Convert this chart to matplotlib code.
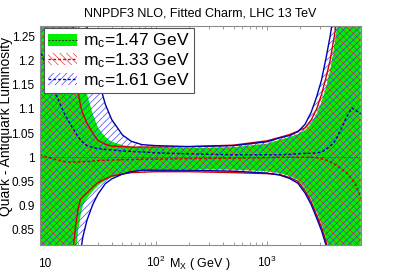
import numpy as np
import matplotlib
matplotlib.use("Agg")
import matplotlib.pyplot as plt
from matplotlib.patches import Patch
from matplotlib.lines import Line2D
from matplotlib.legend_handler import HandlerTuple
from matplotlib.ticker import FixedLocator, FixedFormatter, LogLocator, NullFormatter

plt.rcParams['font.family'] = ['Liberation Sans', 'DejaVu Sans']
plt.rcParams['mathtext.fontset'] = 'custom'
plt.rcParams['mathtext.rm'] = 'Liberation Sans'
plt.rcParams['mathtext.it'] = 'Liberation Sans:italic'
plt.rcParams['mathtext.default'] = 'regular'
plt.rcParams['hatch.linewidth'] = 0.45

# ---------------- data ----------------
mass = [9, 12, 15, 17, 18, 19, 20, 21, 22, 24, 27, 30, 35, 40, 50, 60, 75, 100, 200, 500,
        1000, 1300, 1600, 1900, 2200, 2500, 2800, 3100, 3400, 3700, 4000, 4300, 4700,
        5200, 5800, 6400, 7000]

# m_c = 1.47 GeV (reference)
g_cen = [1.0] * len(mass)
g_hi = [1.9, 1.7, 1.5, 1.40, 1.35, 1.30, 1.25, 1.20, 1.17, 1.13, 1.09, 1.062, 1.042, 1.032,
        1.025, 1.022, 1.020, 1.019, 1.019, 1.021, 1.028, 1.036, 1.042, 1.048, 1.056, 1.07,
        1.09, 1.115, 1.145, 1.18, 1.225, 1.275, 1.34, 1.43, 1.55, 1.7, 1.85]
g_lo = [0.3, 0.4, 0.55, 0.68, 0.74, 0.80, 0.85, 0.88, 0.90, 0.915, 0.930, 0.941, 0.952, 0.958,
        0.965, 0.969, 0.972, 0.974, 0.975, 0.974, 0.971, 0.967, 0.961, 0.953, 0.935, 0.913,
        0.886, 0.861, 0.833, 0.80, 0.76, 0.72, 0.66, 0.58, 0.48, 0.38, 0.28]

# m_c = 1.33 GeV
r_cen = [1.005, 0.996, 0.991, 0.990, 0.990, 0.990, 0.990, 0.990, 0.991, 0.991, 0.992, 0.993,
         0.994, 0.994, 0.995, 0.995, 0.996, 0.996, 0.997, 0.998, 0.999, 1.0, 1.0, 1.0, 1.0,
         1.0, 0.999, 0.997, 0.994, 0.991, 0.987, 0.982, 0.975, 0.968, 0.955, 0.94, 0.915]
r_hi = [2.0, 1.8, 1.55, 1.36, 1.272, 1.19, 1.135, 1.105, 1.09, 1.07, 1.05, 1.035, 1.027, 1.023,
        1.022, 1.021, 1.021, 1.021, 1.022, 1.025, 1.034, 1.041, 1.047, 1.054, 1.061, 1.077,
        1.10, 1.13, 1.165, 1.20, 1.245, 1.29, 1.35, 1.45, 1.6, 1.75, 1.9]
r_lo = [0.3, 0.45, 0.62, 0.75, 0.81, 0.86, 0.895, 0.913, 0.918, 0.926, 0.938, 0.947, 0.955,
        0.961, 0.965, 0.968, 0.969, 0.970, 0.970, 0.968, 0.966, 0.964, 0.958, 0.950, 0.931,
        0.908, 0.880, 0.855, 0.826, 0.79, 0.75, 0.71, 0.65, 0.57, 0.47, 0.37, 0.27]

# m_c = 1.61 GeV
b_cen = [1.225, 1.14, 1.09, 1.068, 1.058, 1.05, 1.042, 1.036, 1.031, 1.024, 1.02, 1.018, 1.016,
         1.015, 1.013, 1.012, 1.011, 1.009, 1.007, 1.005, 1.005, 1.005, 1.006, 1.007, 1.008,
         1.008, 1.009, 1.011, 1.016, 1.023, 1.03, 1.042, 1.06, 1.083, 1.102, 1.096, 1.09]
b_hi = [2.5, 2.2, 1.9, 1.7, 1.6, 1.52, 1.45, 1.38, 1.33, 1.27, 1.21, 1.165, 1.11, 1.078, 1.046,
        1.033, 1.026, 1.024, 1.022, 1.024, 1.032, 1.040, 1.045, 1.053, 1.068, 1.093, 1.125,
        1.16, 1.205, 1.25, 1.30, 1.36, 1.45, 1.55, 1.7, 1.85, 2.0]
b_lo = [0.2, 0.35, 0.5, 0.6, 0.65, 0.7, 0.75, 0.805, 0.835, 0.87, 0.902, 0.923, 0.945, 0.955,
        0.965, 0.970, 0.973, 0.973, 0.973, 0.971, 0.967, 0.963, 0.956, 0.946, 0.926, 0.902,
        0.874, 0.848, 0.818, 0.78, 0.74, 0.70, 0.64, 0.56, 0.46, 0.36, 0.26]

labels = ['m$_{c}$=1.47 GeV', 'm$_{c}$=1.33 GeV', 'm$_{c}$=1.61 GeV']
xticks = [10, 100, 1000]
xticklabels = ['10', '$10^{2}$', '$10^{3}$']
yticks = [0.85, 0.9, 0.95, 1.0, 1.05, 1.1, 1.15, 1.2, 1.25]
yticklabels = ['0.85', '0.9', '0.95', '1', '1.05', '1.1', '1.15', '1.2', '1.25']

# ---------------- style ----------------
green = '#00f000'
red_line = '#d00000'
blue_line = '#0000b0'
red_hatch = '#ff2020'
blue_hatch = '#3030ff'
hatch_r = '\\\\\\\\\\'
hatch_b = '/////'

fig = plt.figure(figsize=(4.01, 2.72), dpi=100)
ax = fig.add_axes([39.5 / 401, 27 / 272, 321.5 / 401, 219 / 272])
ax.set_xscale('log')

ax.fill_between(mass, g_lo, g_hi, facecolor=green, edgecolor='none', lw=0, zorder=1)
ax.fill_between(mass, r_lo, r_hi, facecolor='none', edgecolor=red_hatch, hatch=hatch_r, lw=0, zorder=2)
ax.fill_between(mass, b_lo, b_hi, facecolor='none', edgecolor=blue_hatch, hatch=hatch_b, lw=0, zorder=2)

ax.plot(mass, g_cen, color='#404040', lw=0.5, dashes=(2, 1.5), zorder=3)
for lo, hi, cen, c in [(r_lo, r_hi, r_cen, red_line), (b_lo, b_hi, b_cen, blue_line)]:
    ax.plot(mass, hi, color=c, lw=1.0, zorder=4)
    ax.plot(mass, lo, color=c, lw=1.0, zorder=4)
    ax.plot(mass, cen, color=c, lw=1.0, dashes=(2, 1.5), zorder=4)

ax.set_xlim(8.95, 7030)
ax.set_ylim(0.818, 1.272)

ax.xaxis.set_major_locator(FixedLocator(xticks))
ax.xaxis.set_major_formatter(FixedFormatter(xticklabels))
ax.xaxis.set_minor_locator(LogLocator(base=10, subs=np.arange(2, 10)))
ax.xaxis.set_minor_formatter(NullFormatter())
ax.yaxis.set_major_locator(FixedLocator(yticks))
ax.yaxis.set_major_formatter(FixedFormatter(yticklabels))

spine_c = '#8a8a8a'
for s in ax.spines.values():
    s.set_color(spine_c)
    s.set_linewidth(0.8)
    s.set_zorder(6)
ax.tick_params(which='both', direction='in', top=True, right=True, color=spine_c,
               labelsize=8.5, width=0.6)
ax.tick_params(which='major', length=3)
ax.tick_params(which='minor', length=2)
ax.tick_params(axis='x', pad=16)
for lbl in ax.get_xticklabels():
    lbl.set_verticalalignment('baseline')

ax.set_title('NNPDF3 NLO, Fitted Charm, LHC 13 TeV', fontsize=9, pad=6.5)
ax.set_ylabel('Quark - Antiquark Luminosity', fontsize=10)
ax.yaxis.set_label_coords(-0.081, 0.54)
ax.set_xlabel('M$_{X}$ ( GeV )', fontsize=9)
ax.xaxis.set_label_coords(0.5, -0.05)

h_g = (Patch(facecolor=green, edgecolor='none'), Line2D([], [], color='#303030', lw=0.7, dashes=(2, 1.5)))
h_r = (Patch(facecolor='white', edgecolor=red_hatch, hatch=hatch_r, lw=0),
       Line2D([], [], color=red_line, lw=1.0, dashes=(2, 1.5)))
h_b = (Patch(facecolor='white', edgecolor=blue_hatch, hatch=hatch_b, lw=0),
       Line2D([], [], color=blue_line, lw=1.0, dashes=(2, 1.5)))
leg = ax.legend([h_g, h_r, h_b], labels, handler_map={tuple: HandlerTuple(ndivide=1)},
                loc='upper left', bbox_to_anchor=(0.014, 0.991), borderaxespad=0,
                fontsize=12.5, fancybox=False, framealpha=1, edgecolor='#555555',
                handlelength=1.7, handleheight=0.7, handletextpad=0.35,
                labelspacing=0.05, borderpad=0.22)
leg.get_frame().set_linewidth(0.8)
leg.set_zorder(10)

fig.savefig('out.png', dpi=100)
